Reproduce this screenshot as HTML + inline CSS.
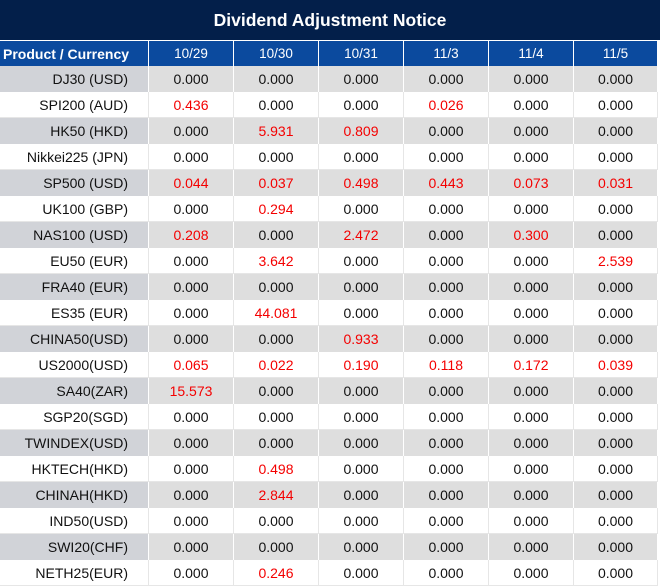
<!DOCTYPE html>
<html><head><meta charset="utf-8"><style>
*{margin:0;padding:0;box-sizing:border-box}
body{width:660px;height:587px;background:#fff;font-family:"Liberation Sans",sans-serif;position:relative;overflow:hidden}
.t{position:absolute;left:0;top:0;width:660px;height:40px;background:#031f4a;color:#fff;font-weight:bold;font-size:17.5px;text-align:center;line-height:40px}
.r{position:absolute;left:0;width:660px;height:26px;display:flex}
.c{height:26px;line-height:26px;font-size:14px;text-align:center;color:#111;border-right:1px solid #fff;white-space:nowrap;overflow:hidden}
.g .c{background:#dedede}
.g .c.f{background:#d1d3d8}
.w .c{border-right:1px solid #e6e6e6;border-bottom:1px solid #e6e6e6}
.f{width:149px;text-align:right;padding-right:20px}
.d{width:85px}
.h .c{background:#0b4a9e;color:#fff;font-size:13.5px;border-right:1px solid #fff}
.h .f{text-align:left;padding-left:3px;padding-right:0;font-weight:bold;font-size:14px}
.red{color:#f40000}
</style></head><body>
<div class="t">Dividend Adjustment Notice</div>
<div class="r h" style="top:41px;height:25px"><div class="c f">Product / Currency</div><div class="c d">10/29</div><div class="c d">10/30</div><div class="c d">10/31</div><div class="c d">11/3</div><div class="c d">11/4</div><div class="c d" style="width:84px">11/5</div></div>
<div id="rows"></div>
<script>
var data=[
["DJ30 (USD)","0.000","0.000","0.000","0.000","0.000","0.000"],
["SPI200 (AUD)","0.436","0.000","0.000","0.026","0.000","0.000"],
["HK50 (HKD)","0.000","5.931","0.809","0.000","0.000","0.000"],
["Nikkei225 (JPN)","0.000","0.000","0.000","0.000","0.000","0.000"],
["SP500 (USD)","0.044","0.037","0.498","0.443","0.073","0.031"],
["UK100 (GBP)","0.000","0.294","0.000","0.000","0.000","0.000"],
["NAS100 (USD)","0.208","0.000","2.472","0.000","0.300","0.000"],
["EU50 (EUR)","0.000","3.642","0.000","0.000","0.000","2.539"],
["FRA40 (EUR)","0.000","0.000","0.000","0.000","0.000","0.000"],
["ES35 (EUR)","0.000","44.081","0.000","0.000","0.000","0.000"],
["CHINA50(USD)","0.000","0.000","0.933","0.000","0.000","0.000"],
["US2000(USD)","0.065","0.022","0.190","0.118","0.172","0.039"],
["SA40(ZAR)","15.573","0.000","0.000","0.000","0.000","0.000"],
["SGP20(SGD)","0.000","0.000","0.000","0.000","0.000","0.000"],
["TWINDEX(USD)","0.000","0.000","0.000","0.000","0.000","0.000"],
["HKTECH(HKD)","0.000","0.498","0.000","0.000","0.000","0.000"],
["CHINAH(HKD)","0.000","2.844","0.000","0.000","0.000","0.000"],
["IND50(USD)","0.000","0.000","0.000","0.000","0.000","0.000"],
["SWI20(CHF)","0.000","0.000","0.000","0.000","0.000","0.000"],
["NETH25(EUR)","0.000","0.246","0.000","0.000","0.000","0.000"]];
var h="";
data.forEach(function(r,i){
h+='<div class="r '+(i%2?'w':'g')+'" style="top:'+(66+i*26)+'px"><div class="c f">'+r[0]+'</div>';
for(var j=1;j<7;j++){h+='<div class="c d'+(r[j]!="0.000"?' red':'')+'"'+(j==6?' style="width:84px"':'')+'>'+r[j]+'</div>';}
h+='</div>';});
document.getElementById("rows").innerHTML=h;
</script>
</body></html>
